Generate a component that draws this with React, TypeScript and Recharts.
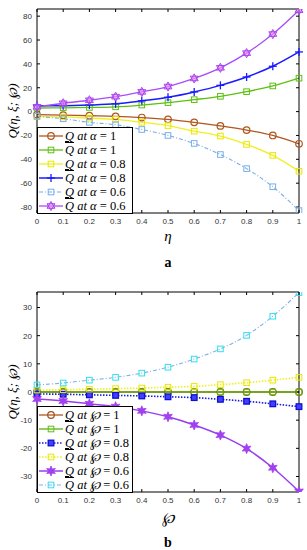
import React from 'react';
import { LineChart, Line, XAxis, YAxis } from 'recharts';

const xs = [0, 0.1, 0.2, 0.3, 0.4, 0.5, 0.6, 0.7, 0.8, 0.9, 1];
const xTicks = [0, 0.1, 0.2, 0.3, 0.4, 0.5, 0.6, 0.7, 0.8, 0.9, 1];
const yTicksA = [-80, -60, -40, -20, 0, 20, 40, 60, 80];
const yTicksB = [-30, -20, -10, 0, 10, 20, 30];

// panel a (eta)
const qA1 = [-2.5, -3, -3.5, -4, -5, -6.5, -9, -12, -15.5, -20, -27];
const qbarA1 = [3, 3.2, 3.5, 4, 5.5, 7.5, 10, 12.8, 16.7, 21.5, 28];
const qA08 = [-4, -4.5, -5.5, -6.5, -9, -11.7, -16.4, -20.5, -27.5, -36.7, -50];
const qbarA08 = [5, 5, 5.5, 6.5, 9, 12, 16.5, 22, 29, 38, 50];
const qA06 = [-4, -6, -9, -11, -15, -20, -26.7, -36, -47.8, -63, -83];
const qbarA06 = [4, 7, 9.5, 12.5, 16.5, 21, 27.8, 36.7, 49, 65, 85];

// panel b (wp)
const qP1 = [0, 0, 0, 0, 0, 0, 0, 0, 0, 0, 0];
const qbarP1 = [0, 0, 0, 0, 0, 0, 0, 0, 0, 0, 0];
const qP08 = [-0.7, -0.8, -1, -1.2, -1.4, -1.7, -2, -2.6, -3.3, -4.2, -5.2];
const qbarP08 = [0.7, 0.8, 1, 1.2, 1.4, 1.7, 2, 2.6, 3.3, 4.2, 5.2];
const qP06 = [-2.5, -3.2, -4.2, -5.2, -6.7, -8.8, -11.7, -15.3, -20.1, -26.9, -35.3];
const qbarP06 = [2.5, 3.2, 4.2, 5.2, 6.7, 8.8, 11.7, 15.3, 20.1, 26.9, 35.3];

type Ser = {
  key: string; values: number[]; bar: boolean; param: string; val: string;
  color: string; dash?: string; width: number; marker: string; mStroke: string; mFill: string;
};

const seriesA: Ser[] = [
  { key: 's1', values: qA1, bar: false, param: 'α', val: '1', color: '#b0561e', width: 1.3, marker: 'circle', mStroke: '#b0561e', mFill: 'none' },
  { key: 's2', values: qbarA1, bar: true, param: 'α', val: '1', color: '#5cc010', width: 1.3, marker: 'square', mStroke: '#5cc010', mFill: 'none' },
  { key: 's3', values: qA08, bar: false, param: 'α', val: '0.8', color: '#f0f020', width: 1.3, marker: 'square', mStroke: '#e8e800', mFill: 'none' },
  { key: 's4', values: qbarA08, bar: true, param: 'α', val: '0.8', color: '#1a1aff', width: 1.5, marker: 'plus', mStroke: '#1a1aff', mFill: 'none' },
  { key: 's5', values: qA06, bar: false, param: 'α', val: '0.6', color: '#78aee8', dash: '4 2 1 2', width: 1.1, marker: 'square', mStroke: '#78aee8', mFill: 'none' },
  { key: 's6', values: qbarA06, bar: true, param: 'α', val: '0.6', color: '#a84cf8', width: 1.3, marker: 'hexagram', mStroke: '#a040f0', mFill: '#f090f0' },
];

const seriesB: Ser[] = [
  { key: 's1', values: qP1, bar: false, param: '℘', val: '1', color: '#b0561e', width: 1.3, marker: 'circle', mStroke: '#a05020', mFill: 'none' },
  { key: 's2', values: qbarP1, bar: true, param: '℘', val: '1', color: '#5cb010', width: 1.3, marker: 'square', mStroke: '#5cc010', mFill: 'none' },
  { key: 's3', values: qP08, bar: false, param: '℘', val: '0.8', color: '#1a1ae0', dash: '1.5 1.5', width: 1.6, marker: 'sqfill', mStroke: '#1010d0', mFill: '#4040ff' },
  { key: 's4', values: qbarP08, bar: true, param: '℘', val: '0.8', color: '#f0f020', dash: '1.5 1.5', width: 1.6, marker: 'square', mStroke: '#e8e800', mFill: 'none' },
  { key: 's5', values: qP06, bar: false, param: '℘', val: '0.6', color: '#9a3cf0', width: 1.5, marker: 'star', mStroke: '#a040f0', mFill: '#a040f0' },
  { key: 's6', values: qbarP06, bar: true, param: '℘', val: '0.6', color: '#80b0e8', dash: '4 2 1 2', width: 1.1, marker: 'square', mStroke: '#30e0f0', mFill: 'none' },
];

const buildData = (series: Ser[]) =>
  xs.map((x, i) => {
    const row: any = { x };
    series.forEach((s) => { row[s.key] = s.values[i]; });
    return row;
  });

const dataA = buildData(seriesA);
const dataB = buildData(seriesB);

function hexPath(cx: number, cy: number, r: number) {
  const pts = (off: number) =>
    [0, 1, 2].map((k) => {
      const a = (off + k * 120) * Math.PI / 180;
      return `${cx + r * Math.cos(a)},${cy + r * Math.sin(a)}`;
    });
  const t1 = pts(-90); const t2 = pts(90);
  return `M${t1[0]}L${t1[1]}L${t1[2]}Z M${t2[0]}L${t2[1]}L${t2[2]}Z`;
}

function starPath(cx: number, cy: number, R: number, r: number) {
  let d = '';
  for (let k = 0; k < 12; k++) {
    const rad = k % 2 === 0 ? R : r;
    const a = (-90 + k * 30) * Math.PI / 180;
    d += (k === 0 ? 'M' : 'L') + (cx + rad * Math.cos(a)) + ',' + (cy + rad * Math.sin(a));
  }
  return d + 'Z';
}

const Marker = ({ kind, cx, cy, stroke, fill }: any) => {
  if (cx == null || cy == null) return null;
  switch (kind) {
    case 'circle':
      return <circle cx={cx} cy={cy} r={3.3} stroke={stroke} strokeWidth={1.2} fill="none" />;
    case 'square':
      return <rect x={cx - 2.8} y={cy - 2.8} width={5.6} height={5.6} stroke={stroke} strokeWidth={1} fill={fill} />;
    case 'sqfill':
      return <rect x={cx - 2.8} y={cy - 2.8} width={5.6} height={5.6} stroke={stroke} strokeWidth={1.3} fill={fill} />;
    case 'plus':
      return (
        <g stroke={stroke} strokeWidth={1.3}>
          <line x1={cx - 4} y1={cy} x2={cx + 4} y2={cy} />
          <line x1={cx} y1={cy - 4} x2={cx} y2={cy + 4} />
        </g>
      );
    case 'hexagram':
      return <path d={hexPath(cx, cy, 4.6)} stroke={stroke} strokeWidth={0.9} fill={fill} fillOpacity={0.7} />;
    case 'star':
      return <path d={starPath(cx, cy, 5, 2.4)} stroke={stroke} strokeWidth={0.8} fill={fill} />;
    default:
      return null;
  }
};

const tickStyle = { fontSize: 8, fill: '#333', fontFamily: 'Liberation Sans, Arial, sans-serif' };

const Panel = ({ data, series, yTicks, domain, height, margin }: any) => (
  <LineChart width={307} height={height} data={data} margin={margin}>
    <XAxis dataKey="x" type="number" domain={[0, 1]} ticks={xTicks} height={1}
      tickSize={-3} tickMargin={8} tick={tickStyle} stroke="#000" tickLine={{ stroke: '#000' }}
      axisLine={{ stroke: '#000' }} interval={0} />
    <XAxis xAxisId="top" orientation="top" dataKey="x" type="number" domain={[0, 1]} ticks={xTicks}
      height={1} tickSize={-3} tickFormatter={() => ''} stroke="#000" interval={0} />
    <YAxis type="number" domain={domain} ticks={yTicks} width={1} tickSize={-3} tickMargin={8}
      tick={tickStyle} stroke="#000" interval={0} allowDataOverflow />
    <YAxis yAxisId="right" orientation="right" type="number" domain={domain} ticks={yTicks} width={1}
      tickSize={-3} tickFormatter={() => ''} stroke="#000" interval={0} allowDataOverflow />
    {series.map((s: Ser) => (
      <Line key={s.key} dataKey={s.key} type="monotone" stroke={s.color} strokeWidth={s.width}
        strokeDasharray={s.dash} isAnimationActive={false}
        dot={(p: any) => <Marker key={`${s.key}-${p.index}`} kind={s.marker} cx={p.cx} cy={p.cy} stroke={s.mStroke} fill={s.mFill} />} />
    ))}
  </LineChart>
);

const LegendBox = ({ series, left, top, width, height }: any) => (
  <div style={{ position: 'absolute', left, top, width, height, boxSizing: 'border-box', border: '1px solid #000', background: '#fff', paddingTop: 1 }}>
    {series.map((s: Ser) => (
      <div key={s.key} style={{ display: 'flex', alignItems: 'center', height: 14 }}>
        <svg width={26} height={14} style={{ flex: 'none' }}>
          <line x1={1} y1={7} x2={25} y2={7} stroke={s.color} strokeWidth={s.width} strokeDasharray={s.dash} />
          <Marker kind={s.marker} cx={13} cy={7} stroke={s.mStroke} fill={s.mFill} />
        </svg>
        <span style={{ fontFamily: 'Liberation Serif, serif', fontSize: 12.5, whiteSpace: 'nowrap', marginLeft: 1, lineHeight: '14px', color: '#000' }}>
          <i style={{ textDecoration: s.bar ? 'overline' : 'underline' }}>Q</i>
          <i> at </i><i>{s.param}</i> = {s.val}
        </span>
      </div>
    ))}
  </div>
);

const textBase: any = { position: 'absolute', fontFamily: 'Liberation Serif, serif', whiteSpace: 'nowrap', transform: 'translate(-50%, -50%)' };

export default function App() {
  return (
    <div style={{ position: 'absolute', left: 0, top: 0, width: 307, height: 550, background: '#fff' }}>
      <div style={{ position: 'absolute', left: 0, top: 0 }}>
        <Panel data={dataA} series={seriesA} yTicks={yTicksA} domain={[-85, 86]} height={280}
          margin={{ top: 8, right: 7, bottom: 66, left: 36 }} />
      </div>
      <div style={{ position: 'absolute', left: 0, top: 280 }}>
        <Panel data={dataB} series={seriesB} yTicks={yTicksB} domain={[-35.5, 35.5]} height={270}
          margin={{ top: 11, right: 7, bottom: 57, left: 36 }} />
      </div>
      <LegendBox series={seriesA} left={37} top={127} width={96} height={87} />
      <LegendBox series={seriesB} left={37} top={406} width={96} height={87} />
      <div style={{ ...textBase, left: 12, top: 111, fontSize: 13, fontStyle: 'italic', transform: 'translate(-50%, -50%) rotate(-90deg)' }}>Q(η, ξ; ℘)</div>
      <div style={{ ...textBase, left: 12, top: 392, fontSize: 13, fontStyle: 'italic', transform: 'translate(-50%, -50%) rotate(-90deg)' }}>Q(η, ξ; ℘)</div>
      <div style={{ ...textBase, left: 168, top: 236, fontSize: 15, fontStyle: 'italic' }}>η</div>
      <div style={{ ...textBase, left: 168, top: 263, fontSize: 14, fontWeight: 'bold' }}>a</div>
      <div style={{ ...textBase, left: 168, top: 517, fontSize: 15, fontStyle: 'italic' }}>℘</div>
      <div style={{ ...textBase, left: 168, top: 543, fontSize: 14, fontWeight: 'bold' }}>b</div>
    </div>
  );
}
